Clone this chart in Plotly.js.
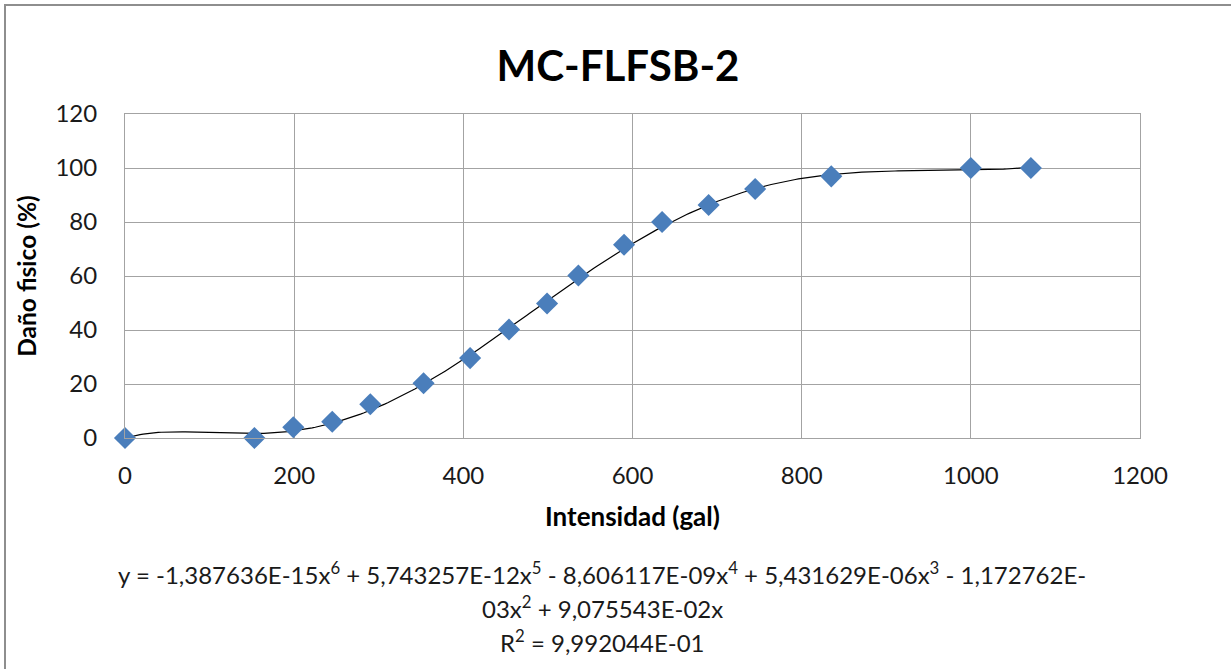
<!DOCTYPE html>
<html>
<head>
<meta charset="utf-8">
<script src="https://cdn.plot.ly/plotly-3.0.1.min.js"></script>
<style>
  html, body { margin: 0; padding: 0; background: #ffffff; }
  #wrap { position: relative; width: 1231px; height: 669px; overflow: hidden; }
  #chart { position: absolute; left: 0; top: 0; width: 1231px; height: 669px; }
  #frame { position: absolute; left: 4px; top: 4px; width: 1300px; height: 700px;
           border-top: 2px solid #8e8e8e; border-left: 2px solid #8e8e8e; pointer-events: none; }
</style>
</head>
<body>
<div id="wrap">
  <div id="chart"></div>
  <div id="frame"></div>
</div>
<script>
// ---- data ----
const chartTitle = "MC-FLFSB-2";
const xTitle = "Intensidad (gal)";
const yTitle = "Daño fisico (%)";
const intensidad = [0, 153, 199, 245, 290, 353, 408, 454, 499, 536, 590, 635, 690, 745, 835, 1000, 1071];
const dano = [0, 0, 4, 6, 12.5, 20.3, 29.6, 40.2, 49.8, 60.2, 71.6, 80, 86.3, 92.2, 96.9, 100, 100];
// polynomial trendline coefficients shown on the chart (x^6 ... x^1)
const trendCoefs = [-1.387636e-15, 5.743257e-12, -8.606117e-09, 5.431629e-06, -1.172762e-03, 9.075543e-02];
const eqLines = [
  "y = -1,387636E-15x<sup>6</sup> + 5,743257E-12x<sup>5</sup> - 8,606117E-09x<sup>4</sup> + 5,431629E-06x<sup>3</sup> - 1,172762E-",
  "03x<sup>2</sup> + 9,075543E-02x",
  "R<sup>2</sup> = 9,992044E-01"
];

// trendline evaluated from the displayed coefficients
function trend(x) {
  let y = 0;
  for (let i = 0; i < trendCoefs.length; i++) {
    y += trendCoefs[i] * Math.pow(x, trendCoefs.length - i);
  }
  return y;
}
const xMax = Math.max(...intensidad);
const tx = [], ty = [];
for (let i = 0; i <= 300; i++) {
  const x = xMax * i / 300;
  tx.push(x); ty.push(trend(x));
}

const W = 1231, H = 669;
const L = 125, R = 91, T = 114, B = 231;
const plotW = W - L - R, plotH = H - T - B;
function px2paperX(px) { return (px - L) / plotW; }
function px2paperY(py) { return (H - B - py) / plotH; }

const FONT = "Lato, 'Open Sans', sans-serif";
const gridCol = "#a3a3a3";

const traces = [
  {
    x: tx, y: ty, type: "scatter", mode: "lines",
    line: { color: "#000000", width: 1.2 },
    hoverinfo: "skip", showlegend: false, cliponaxis: false
  },
  {
    x: intensidad, y: dano, type: "scatter", mode: "markers",
    marker: { symbol: "diamond", size: 17, color: "#4a7ebb" },
    showlegend: false, cliponaxis: false
  }
];

const annotations = [
  { text: eqLines[0], y: 573 },
  { text: eqLines[1], y: 607 },
  { text: eqLines[2], y: 641 }
].map(a => ({
  text: a.text, xref: "paper", yref: "paper",
  x: px2paperX(602), y: px2paperY(a.y), xanchor: "center", yanchor: "middle",
  showarrow: false, font: { family: FONT, size: 24, color: "#1a1a1a" }
}));

const layout = {
  width: W, height: H,
  margin: { l: L, r: R, t: T, b: B },
  paper_bgcolor: "#ffffff", plot_bgcolor: "#ffffff",
  font: { family: FONT, color: "#1a1a1a" },
  title: {
    text: "<b>" + chartTitle + "</b>",
    font: { family: FONT, size: 42, color: "#000000" },
    xref: "container", x: 618 / W, xanchor: "center",
    yref: "container", y: 1 - 66 / H, yanchor: "middle"
  },
  xaxis: {
    range: [0, 1200], dtick: 200, tick0: 0,
    showgrid: true, gridcolor: gridCol, gridwidth: 1,
    showline: true, linecolor: gridCol, linewidth: 1, mirror: true,
    zeroline: false, ticks: "", ticklabelstandoff: 16,
    tickfont: { family: FONT, size: 24, color: "#1a1a1a" },
    title: { text: "<b>" + xTitle + "</b>", font: { family: FONT, size: 26, color: "#000000" }, standoff: 20 },
    fixedrange: true
  },
  yaxis: {
    range: [0, 120], dtick: 20, tick0: 0,
    showgrid: true, gridcolor: gridCol, gridwidth: 1,
    showline: true, linecolor: gridCol, linewidth: 1, mirror: true,
    zeroline: false, ticks: "", ticklabelstandoff: 22,
    tickfont: { family: FONT, size: 24, color: "#1a1a1a" },
    title: { text: "<b>" + yTitle + "</b>", font: { family: FONT, size: 24.5, color: "#000000" }, standoff: 11 },
    fixedrange: true
  },
  annotations: annotations,
  showlegend: false
};

Plotly.newPlot("chart", traces, layout, { displayModeBar: false, staticPlot: true });
</script>
</body>
</html>
